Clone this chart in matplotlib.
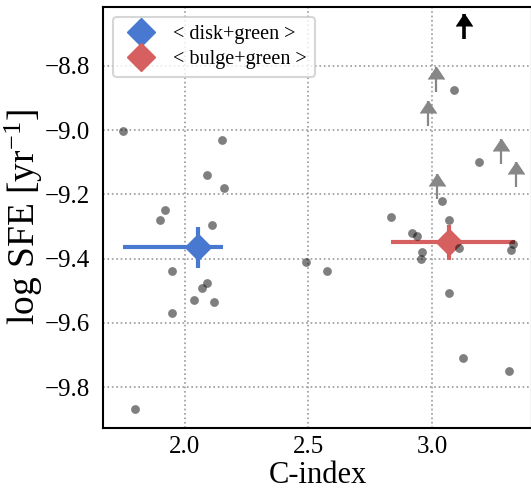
import matplotlib
matplotlib.use('Agg')
import matplotlib.pyplot as plt
from matplotlib.lines import Line2D
from matplotlib.markers import CARETUP

plt.rcParams['font.family'] = ['Liberation Serif', 'DejaVu Serif']
plt.rcParams['mathtext.fontset'] = 'custom'
plt.rcParams['mathtext.rm'] = 'Liberation Serif'
plt.rcParams['mathtext.it'] = 'Liberation Serif:italic'

# detected galaxies (C-index, log SFE)
c_index = [1.751, 2.15, 2.09, 2.16, 1.92, 1.90, 2.11, 1.949, 2.09, 2.07, 2.04, 2.12, 1.95, 1.801,
           2.49, 2.576,
           2.835, 2.918, 2.938, 2.958, 2.955, 3.07, 3.04, 3.09, 3.19, 3.11, 3.328, 3.319, 3.07, 3.126, 3.31]
log_sfe = [-9.003, -9.03, -9.14, -9.18, -9.25, -9.28, -9.295, -9.437, -9.477, -9.49, -9.53, -9.535, -9.57, -9.868,
           -9.41, -9.438,
           -9.27, -9.321, -9.329, -9.378, -9.401, -9.28, -9.22, -8.874, -9.10, -9.366, -9.355, -9.374, -9.506, -9.71, -9.75]

# lower limits
lim_c = [3.016, 2.985, 3.277, 3.338, 3.019]
lim_sfe = [-8.881, -8.9875, -9.106, -9.176, -9.215]
lim_len = 0.078

# direction marker (black arrow)
arrow_c = [3.128]
arrow_sfe = [-8.718]

# group averages
groups = ['< disk+green >', '< bulge+green >']
group_colors = ['#4878CF', '#D65F5F']
avg_c = [2.056, 3.07]
avg_sfe = [-9.365, -9.349]
c_lo = [1.751, 2.835]
c_hi = [2.157, 3.335]
sfe_err = [0.065, 0.055]


def draw_limits(ax, xs, ys, color, lw):
    tops = [y + lim_len for y in ys]
    ax.vlines(xs, ys, tops, color=color, lw=lw, zorder=4)
    ax.plot(xs, tops, ls='none', marker=CARETUP, ms=11.5, color=color, zorder=4)


fig = plt.figure(figsize=(5.31, 4.92), dpi=100)
ax = fig.add_axes([103 / 531, (492 - 427.7) / 492, (532 - 103) / 531, (427.7 - 6.7) / 492])

for i in range(len(groups)):
    ax.errorbar(avg_c[i], avg_sfe[i],
                xerr=[[avg_c[i] - c_lo[i]], [c_hi[i] - avg_c[i]]],
                yerr=sfe_err[i], fmt='D', color=group_colors[i], ms=13.5,
                elinewidth=3, capsize=0, zorder=3)

ax.scatter(c_index, log_sfe, s=40, color='k', alpha=0.5, lw=0, zorder=4)

draw_limits(ax, lim_c, lim_sfe, '#878787', 1.6)
draw_limits(ax, arrow_c, arrow_sfe, 'k', 2.6)

ax.set_xlim(1.6706, 3.404)
ax.set_ylim(-9.9256, -8.6165)
ax.set_xticks([2.0, 2.5, 3.0])
ax.set_yticks([-8.8, -9.0, -9.2, -9.4, -9.6, -9.8])
ax.grid(True, ls=':', color='#999999', lw=1.2)
ax.set_axisbelow(True)
ax.tick_params(length=0, labelsize=18)
ax.tick_params(axis='y', pad=9)
ax.tick_params(axis='x', pad=6)
for sp in ax.spines.values():
    sp.set_linewidth(1.5)
    sp.set_color('k')

ax.set_xlabel('C-index', fontsize=22, labelpad=2)
ax.set_ylabel(r'log SFE [yr$^{-1}$]', fontsize=27, labelpad=0)

handles = [Line2D([], [], marker='D', ls='none', color=c, ms=14) for c in group_colors]
leg = ax.legend(handles, groups, loc='upper left', fontsize=14.5, frameon=True,
                borderpad=0.4, handletextpad=0.6, labelspacing=0.3)
leg.get_frame().set_edgecolor('#cccccc')
leg.get_frame().set_linewidth(1.5)

fig.savefig('out.png', dpi=100)
